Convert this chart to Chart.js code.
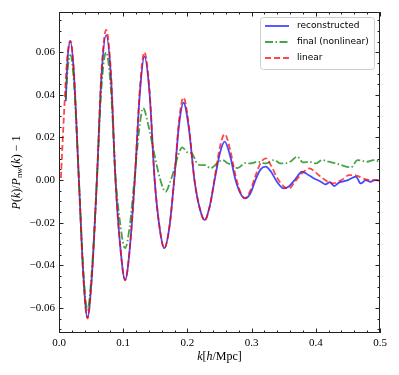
<!DOCTYPE html>
<html>
<head>
<meta charset="utf-8">
<script src="https://cdn.jsdelivr.net/npm/chart.js@4/dist/chart.umd.min.js"></script>
<style>
  body { margin: 0; background: #fff; }
  canvas { display: block; }
</style>
</head>
<body>
<canvas id="myChart" width="399" height="375"></canvas>
<script>
// data
const kLinear = [0.003,0.0055,0.0083,0.0115,0.0145,0.0177,0.023,0.031,0.038,0.0443,0.051,0.059,0.066,0.0734,0.081,0.088,0.096,0.103,0.110,0.118,0.126,0.133,0.141,0.149,0.157,0.164,0.172,0.180,0.187,0.194,0.202,0.211,0.219,0.227,0.235,0.243,0.251,0.258,0.266,0.275,0.283,0.290,0.298,0.306,0.314,0.322,0.330,0.340,0.350,0.358,0.367,0.378,0.390,0.400,0.410,0.426,0.440,0.452,0.465,0.473,0.485,0.5];
const linear = [0.001,0.017,0.034,0.052,0.062,0.0655,0.052,0.000,-0.046,-0.065,-0.046,0.000,0.050,0.0705,0.050,0.000,-0.033,-0.047,-0.033,0.000,0.043,0.060,0.042,0.000,-0.023,-0.032,-0.022,0.002,0.028,0.0388,0.026,0.000,-0.013,-0.019,-0.012,0.002,0.016,0.0216,0.015,0.002,-0.006,-0.0085,-0.005,0.002,0.008,0.0102,0.007,0.001,-0.003,-0.004,-0.001,0.003,0.0055,0.0035,0.001,-0.0016,0.000,0.0023,0.002,0.0008,0.000,0.000];

const kRecon = [0.0105,0.0135,0.0177,0.023,0.031,0.038,0.0443,0.051,0.059,0.066,0.0734,0.081,0.088,0.096,0.103,0.110,0.118,0.126,0.133,0.141,0.149,0.157,0.164,0.172,0.180,0.187,0.194,0.202,0.211,0.219,0.227,0.235,0.243,0.251,0.258,0.266,0.275,0.283,0.290,0.298,0.306,0.314,0.322,0.330,0.340,0.350,0.358,0.367,0.379,0.388,0.396,0.408,0.415,0.422,0.429,0.436,0.443,0.450,0.4625,0.470,0.478,0.485,0.492,0.5];
const recon = [0.037,0.057,0.065,0.051,0.000,-0.045,-0.0645,-0.046,0.000,0.048,0.068,0.048,0.000,-0.033,-0.047,-0.033,0.000,0.041,0.058,0.041,0.000,-0.023,-0.032,-0.022,0.002,0.026,0.0363,0.025,0.000,-0.013,-0.0188,-0.012,0.001,0.013,0.018,0.012,0.000,-0.0065,-0.0086,-0.0063,0.000,0.005,0.0063,0.004,-0.001,-0.0039,-0.003,0.000,0.0039,0.0025,0.001,-0.0008,-0.002,-0.001,-0.0028,-0.0012,-0.0006,0.000,0.0016,-0.0016,0.000,-0.0008,0.000,-0.0003];

const kFinal = [0.0105,0.0135,0.0177,0.023,0.031,0.038,0.0443,0.051,0.059,0.066,0.0734,0.081,0.088,0.096,0.103,0.110,0.118,0.125,0.131,0.139,0.148,0.157,0.166,0.173,0.179,0.186,0.192,0.200,0.207,0.215,0.222,0.228,0.236,0.246,0.255,0.262,0.270,0.278,0.290,0.298,0.310,0.322,0.335,0.345,0.360,0.371,0.380,0.390,0.400,0.410,0.420,0.430,0.440,0.455,0.465,0.480,0.490,0.5];
const finalNl = [0.038,0.052,0.0587,0.047,0.000,-0.043,-0.061,-0.043,0.000,0.043,0.060,0.042,0.002,-0.022,-0.032,-0.022,0.002,0.024,0.0338,0.026,0.013,0.001,-0.0055,-0.001,0.0047,0.012,0.0153,0.013,0.0125,0.0078,0.007,0.007,0.0055,0.0078,0.0094,0.008,0.007,0.0056,0.008,0.0078,0.0086,0.0078,0.0094,0.0078,0.0086,0.011,0.0083,0.0086,0.0078,0.0094,0.0086,0.008,0.007,0.006,0.0094,0.0086,0.0094,0.0086];

const xTicks = [0.0, 0.1, 0.2, 0.3, 0.4, 0.5];
const yTicks = [-0.06, -0.04, -0.02, 0.00, 0.02, 0.04, 0.06];
const legendNames = ["reconstructed", "final (nonlinear)", "linear"];

function pts(ks, vs) {
  return ks.map((k, i) => ({ x: k, y: vs[i] }));
}

const serif = '"Liberation Serif", "Times New Roman", serif';

// axes frame, inward ticks, axis titles, legend
const decor = {
  id: "decor",
  afterDraw(chart) {
    const ctx = chart.ctx;
    const a = chart.chartArea;
    const x = chart.scales.x;
    const y = chart.scales.y;
    ctx.save();
    ctx.strokeStyle = "#222";
    ctx.lineWidth = 1;
    ctx.strokeRect(Math.round(a.left) + 0.5, Math.round(a.top) + 0.5,
      Math.round(a.right - a.left) - 1, Math.round(a.bottom - a.top) - 1);

    ctx.beginPath();
    for (let v = 0; v <= 0.5001; v += 0.02) {
      const px = Math.round(x.getPixelForValue(v)) + 0.5;
      const major = xTicks.some(t => Math.abs(t - v) < 1e-6);
      const len = major ? 4.5 : 2.5;
      ctx.moveTo(px, a.bottom); ctx.lineTo(px, a.bottom - len);
      ctx.moveTo(px, a.top); ctx.lineTo(px, a.top + len);
    }
    for (let v = -0.07; v <= 0.0751; v += 0.005) {
      const py = Math.round(y.getPixelForValue(v)) + 0.5;
      const major = yTicks.some(t => Math.abs(t - v) < 1e-6);
      const len = major ? 4.5 : 2.5;
      ctx.moveTo(a.left, py); ctx.lineTo(a.left + len, py);
      ctx.moveTo(a.right, py); ctx.lineTo(a.right - len, py);
    }
    ctx.stroke();

    // mixed italic / subscript titles
    function drawParts(parts, cx, cy) {
      let w = 0;
      parts.forEach(p => {
        ctx.font = (p.i ? "italic " : "") + (p.sub ? "8.5px " : "12px ") + serif;
        p.w = ctx.measureText(p.t).width;
        w += p.w;
      });
      let cur = cx - w / 2;
      ctx.fillStyle = "#000";
      ctx.textBaseline = "middle";
      ctx.textAlign = "left";
      parts.forEach(p => {
        ctx.font = (p.i ? "italic " : "") + (p.sub ? "8.5px " : "12px ") + serif;
        ctx.fillText(p.t, cur, cy + (p.sub ? 3 : 0));
        cur += p.w;
      });
    }
    drawParts([{ t: "k", i: true }, { t: "[" }, { t: "h", i: true }, { t: "/Mpc]" }],
      (a.left + a.right) / 2, 357);

    ctx.save();
    ctx.translate(17, (a.top + a.bottom) / 2);
    ctx.rotate(-Math.PI / 2);
    drawParts([{ t: "P", i: true }, { t: "(" }, { t: "k", i: true }, { t: ")/" },
      { t: "P", i: true }, { t: "nw", sub: true }, { t: "(" }, { t: "k", i: true },
      { t: ") − 1" }], 0, 0);
    ctx.restore();

    // legend box
    const bx = 260, by = 17, bw = 114, bh = 52;
    ctx.beginPath();
    ctx.roundRect(bx + 0.5, by + 0.5, bw, bh, 3);
    ctx.fillStyle = "rgba(255,255,255,0.85)";
    ctx.fill();
    ctx.strokeStyle = "#cfcfcf";
    ctx.stroke();
    legendNames.forEach((name, i) => {
      const ds = chart.data.datasets.find(d => d.label === name);
      const ly = by + 9 + i * 16;
      ctx.beginPath();
      ctx.setLineDash(ds.borderDash || []);
      ctx.strokeStyle = ds.borderColor;
      ctx.lineWidth = ds.borderWidth;
      ctx.moveTo(265, ly);
      ctx.lineTo(289, ly);
      ctx.stroke();
      ctx.setLineDash([]);
      ctx.fillStyle = "#000";
      ctx.font = '9px "DejaVu Sans", sans-serif';
      ctx.textBaseline = "middle";
      ctx.fillText(name, 297, ly);
    });
    ctx.restore();
  }
};

const ctx = document.getElementById("myChart").getContext("2d");
const chart = new Chart(ctx, {
  type: "line",
  data: {
    datasets: [
      {
        label: "linear",
        data: pts(kLinear, linear),
        borderColor: "rgba(255,0,0,0.72)",
        borderWidth: 1.8,
        borderDash: [6, 3],
        order: 0
      },
      {
        label: "final (nonlinear)",
        data: pts(kFinal, finalNl),
        borderColor: "rgba(0,128,0,0.72)",
        borderWidth: 1.8,
        borderDash: [8, 2.5, 1.5, 2.5],
        order: 1
      },
      {
        label: "reconstructed",
        data: pts(kRecon, recon),
        borderColor: "rgba(0,0,255,0.72)",
        borderWidth: 1.8,
        order: 2
      }
    ]
  },
  options: {
    responsive: false,
    animation: false,
    devicePixelRatio: 1,
    layout: { padding: { left: 0, top: 12, right: 19, bottom: 0 } },
    elements: {
      point: { radius: 0 },
      line: { cubicInterpolationMode: "monotone", fill: false }
    },
    plugins: {
      legend: { display: false },
      tooltip: { enabled: false }
    },
    scales: {
      x: {
        type: "linear",
        min: 0,
        max: 0.5,
        grid: { display: false, drawTicks: false },
        border: { display: false },
        afterBuildTicks: s => { s.ticks = xTicks.map(v => ({ value: v })); },
        afterFit: s => { s.height = 42; },
        ticks: {
          padding: 4,
          color: "#000",
          maxRotation: 0,
          font: { family: serif, size: 11 },
          callback: v => v.toFixed(1)
        }
      },
      y: {
        type: "linear",
        min: -0.0718,
        max: 0.0789,
        grid: { display: false, drawTicks: false },
        border: { display: false },
        afterBuildTicks: s => { s.ticks = yTicks.map(v => ({ value: v })); },
        afterFit: s => { s.width = 59; },
        ticks: {
          padding: 4,
          color: "#000",
          font: { family: serif, size: 11 },
          callback: v => (v < 0 ? "−" : "") + Math.abs(v).toFixed(2)
        }
      }
    }
  },
  plugins: [decor]
});
</script>
</body>
</html>
